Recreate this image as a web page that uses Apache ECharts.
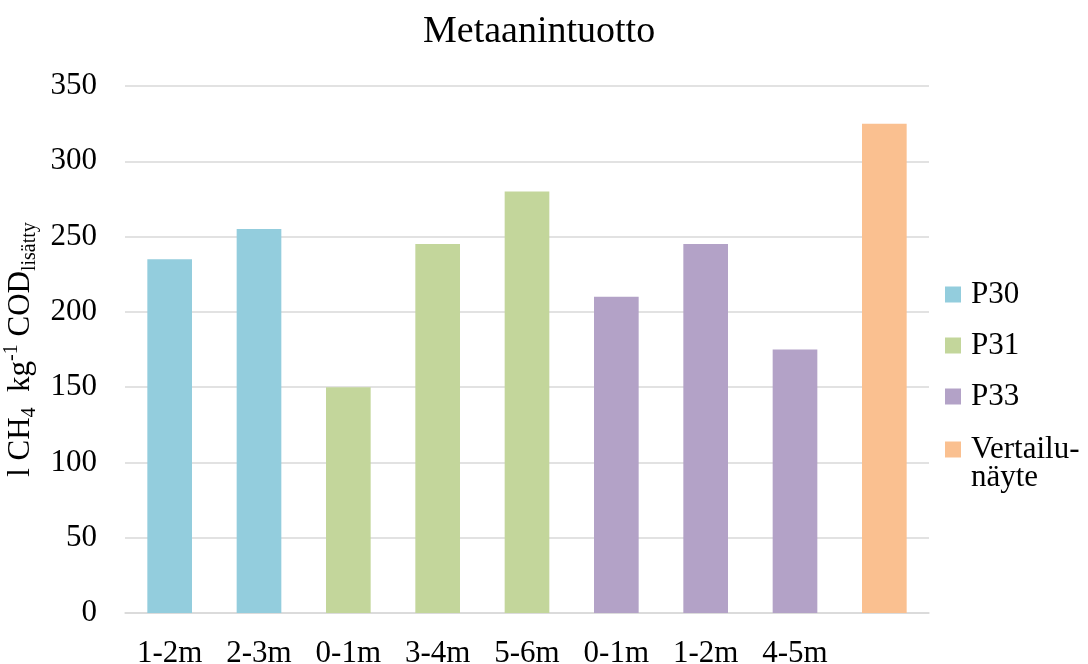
<!DOCTYPE html>
<html>
<head>
<meta charset="utf-8">
<script src="https://cdn.jsdelivr.net/npm/echarts@6/dist/echarts.min.js"></script>
<style>
  html, body { margin: 0; padding: 0; background: #fff; }
  #chart { width: 1088px; height: 664px; }
</style>
</head>
<body>
<div id="chart"></div>
<script>
// Sample depths along the x axis (the reference sample has no depth label)
const categories = ['1-2m', '2-3m', '0-1m', '3-4m', '5-6m', '0-1m', '1-2m', '4-5m', ''];

// Methane yield per sample, l CH4 / kg COD added
const p30 = [235, 255, '-', '-', '-', '-', '-', '-', '-'];
const p31 = ['-', '-', 150, 245, 280, '-', '-', '-', '-'];
const p33 = ['-', '-', '-', '-', '-', 210, 245, 175, '-'];
const vertailu = ['-', '-', '-', '-', '-', '-', '-', '-', 325];

const seriesNames = ['P30', 'P31', 'P33', 'Vertailu-\nnäyte'];
const seriesColors = ['#93CDDD', '#C3D69B', '#B3A2C7', '#FAC090'];
const seriesData = [p30, p31, p33, vertailu];

const font = 'Liberation Serif, Times New Roman, serif';

const legendBase = {
  orient: 'vertical',
  left: 945,
  padding: 0,
  itemWidth: 16,
  itemHeight: 16,
  itemGap: 20,
  icon: 'rect'
};

const chart = echarts.init(document.getElementById('chart'));
chart.setOption({
  animation: false,
  backgroundColor: '#fff',
  title: {
    text: 'Metaanintuotto',
    left: 418,
    top: 8,
    textStyle: { fontFamily: font, fontSize: 38, fontWeight: 'normal', color: '#000' }
  },
  legend: [
    Object.assign({}, legendBase, {
      top: 279,
      textStyle: { fontFamily: font, fontSize: 31, color: '#000', lineHeight: 31, padding: [0, 0, 0, 5] },
      data: seriesNames.slice(0, 3)
    }),
    // two-line entry: a blank leading line keeps "Vertailu-" level with the swatch
    Object.assign({}, legendBase, {
      top: 406,
      formatter: name => '\n' + name,
      textStyle: { fontFamily: font, fontSize: 31, color: '#000', lineHeight: 28, padding: [0, 0, 0, 5] },
      data: seriesNames.slice(3)
    })
  ],
  grid: { left: 125, right: 159, top: 86, bottom: 51, containLabel: false, outerBoundsMode: 'none' },
  xAxis: {
    type: 'category',
    data: categories,
    axisLine: { lineStyle: { color: '#d9d9d9', width: 1.5 } },
    axisTick: { show: false },
    axisLabel: { fontFamily: font, fontSize: 31, color: '#000', margin: 25, interval: 0 }
  },
  yAxis: {
    type: 'value',
    min: 0,
    max: 350,
    interval: 50,
    axisLine: { show: false },
    axisTick: { show: false },
    splitLine: { lineStyle: { color: '#d9d9d9', width: 1.5 } },
    axisLabel: { fontFamily: font, fontSize: 31, color: '#000', margin: 28 },
    name: '{m|l CH}{sub|4}{m|  kg}{sup|-1}{m| COD}{sub|lisätty}',
    nameLocation: 'middle',
    nameRotate: 90,
    nameGap: 79,
    nameTextStyle: {
      fontFamily: font,
      color: '#000',
      rich: {
        m: { fontFamily: font, fontSize: 31, color: '#000', lineHeight: 38, verticalAlign: 'middle' },
        sub: { fontFamily: font, fontSize: 20, color: '#000', lineHeight: 20, verticalAlign: 'bottom' },
        sup: { fontFamily: font, fontSize: 20, color: '#000', lineHeight: 20, verticalAlign: 'top' }
      }
    }
  },
  series: seriesNames.map((name, i) => ({
    name: name,
    type: 'bar',
    stack: 'all',
    barWidth: '50%',
    itemStyle: { color: seriesColors[i] },
    data: seriesData[i]
  }))
});
</script>
</body>
</html>
